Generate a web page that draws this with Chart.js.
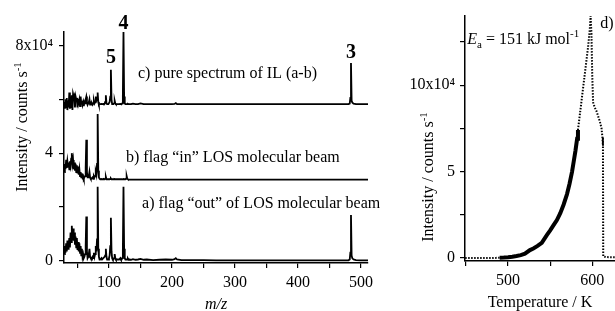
<!DOCTYPE html>
<html>
<head>
<meta charset="utf-8">
<script src="https://cdn.jsdelivr.net/npm/chart.js@4.4.1/dist/chart.umd.min.js"></script>
<style>
  html, body { margin: 0; padding: 0; background: #fff; }
  #wrap { position: relative; width: 615px; height: 311px; overflow: hidden; }
  #left { position: absolute; left: 0; top: 0; }
  #right { position: absolute; left: 400px; top: 0; }
</style>
</head>
<body>
<div id="wrap">
  <canvas id="left" width="400" height="311"></canvas>
  <canvas id="right" width="215" height="311"></canvas>
</div>
<script>
/*  Left panel: mass spectra a), b), c) (intensity in 10^4 counts/s)  */

const mz = [29, 30, 31, 32, 33, 34, 35, 36, 37, 38, 39, 40, 41, 42, 43, 44, 45, 46, 47, 48,
	49, 50, 51, 52, 53, 54, 55, 56, 57, 58, 59, 60, 61, 62, 63, 64, 65, 66, 67, 68,
	69, 70, 71, 72, 73, 74, 75, 76, 77, 78, 79, 80, 81, 82, 83, 84, 85, 86, 87, 88,
	89, 90, 91, 92, 93, 94, 95, 96, 97, 98, 99, 100, 101, 102, 103, 104, 105, 106, 107, 108,
	109, 110, 111, 112, 113, 114, 115, 116, 117, 118, 119, 120, 121, 122, 123, 124, 125, 126, 127, 128,
	129, 130, 131, 132, 133, 134, 135,
	138, 142, 146, 150, 155, 160, 170, 180, 190, 200, 204, 206, 208, 215, 230, 250, 270, 290, 310, 330,
	350, 370, 390, 410, 430, 450, 470, 480, 482, 483, 484, 485, 486, 488, 492, 500, 511];

// a) flag "out" of LOS molecular beam
const specOut = [0.25, 0.55, 0.3, 0.65, 0.35, 0.75, 0.45, 0.6, 0.85, 0.5, 1.05, 0.7, 1.3, 0.85, 1.2, 0.75, 1.05, 0.6, 0.9, 0.5,
	0.85, 0.4, 0.7, 0.35, 0.65, 0.3, 0.55, 0.2, 0.45, 0.15, 0.25, 0.1, 0.15, 0.25, 0.55, 1.65, 0.35, 0.1, 0.15, 0.25,
	0.45, 0.15, 0.1, 0.05, 0.1, 0.15, 0.1, 0.3, 0.15, 0.25, 0.55, 0.35, 0.8, 2.75, 0.45, 0.15, 0.05, 0.05, 0.05, 0.1,
	0.05, 0.05, 0.1, 0.1, 0.15, 0.2, 0.45, 0.15, 0.05, 0.05, 0.05, 0.1, 0.2, 0.55, 1.6, 0.35, 0.1, 0.05, 0.05, 0.1,
	0.25, 0.1, 0.05, 0.05, 0.05, 0.05, 0.05, 0.05, 0.05, 0.1, 0.05, 0.05, 0.1, 0.35, 2.75, 0.45, 0.1, 0.05, 0.05, 0.05,
	0.05, 0.08, 0.04, 0.04, 0.05, 0.04, 0.04,
	0.06, 0.04, 0.05, 0.07, 0.04, 0.05, 0.03, 0.04, 0.05, 0.04, 0.06, 0.1, 0.05, 0.03, 0.03, 0.03, 0.02, 0.02, 0.02, 0.02,
	0.02, 0.02, 0.02, 0.02, 0.02, 0.02, 0.02, 0.02, 0.05, 0.3, 1.7, 0.2, 0.1, 0.05, 0.03, 0.02, 0.02];

// b) flag "in" LOS molecular beam
const specIn = [0.3, 0.6, 0.4, 0.75, 0.45, 0.7, 0.5, 0.65, 0.4, 0.7, 0.55, 0.8, 1.0, 0.6, 0.75, 0.4, 0.65, 0.35, 0.6, 0.3,
	0.55, 0.25, 0.5, 0.2, 0.4, 0.15, 0.3, 0.1, 0.25, 0.1, 0.15, 0.05, 0.1, 0.15, 0.45, 1.5, 0.3, 0.1, 0.1, 0.15,
	0.3, 0.1, 0.05, 0.05, 0.05, 0.1, 0.05, 0.15, 0.1, 0.15, 0.3, 0.2, 0.6, 2.45, 0.35, 0.1, 0.05, 0.03, 0.03, 0.04,
	0.03, 0.03, 0.03, 0.04, 0.03, 0.05, 0.12, 0.03, 0.03, 0.03, 0.03, 0.03, 0.03, 0.04, 0.06, 0.03, 0.03, 0.03, 0.03, 0.03,
	0.04, 0.03, 0.03, 0.03, 0.03, 0.03, 0.03, 0.03, 0.03, 0.03, 0.03, 0.03, 0.03, 0.03, 0.04, 0.03, 0.03, 0.03, 0.05, 0.15,
	0.05, 0.03, 0.02, 0.02, 0.02, 0.02, 0.02,
	0.02, 0.02, 0.02, 0.02, 0.02, 0.02, 0.02, 0.02, 0.02, 0.02, 0.02, 0.02, 0.02, 0.02, 0.02, 0.02, 0.02, 0.02, 0.02, 0.02,
	0.02, 0.02, 0.02, 0.02, 0.02, 0.02, 0.02, 0.02, 0.02, 0.02, 0.02, 0.02, 0.02, 0.02, 0.02, 0.02, 0.02];

// c) pure spectrum of IL (a-b)
const specPure = [0.1, -0.15, 0.2, -0.1, 0.25, -0.2, 0.15, -0.1, 0.45, -0.15, 0.3, -0.1, 0.35, -0.2, 0.4, 0.3, 0.35, -0.1, 0.3, 0.2,
	0.25, -0.1, 0.15, 0.1, 0.2, -0.05, 0.3, 0.05, 0.15, 0.0, 0.1, -0.05, 0.1, 0.05, 0.2, 0.3, 0.1, 0.0, 0.05, 0.1,
	0.2, 0.0, 0.05, 0.0, 0.05, 0.0, 0.05, 0.15, 0.05, 0.1, 0.3, 0.15, 0.2, 0.45, 0.1, 0.0, 0.02, 0.02, 0.02, 0.03,
	0.02, 0.02, 0.03, 0.02, 0.03, 0.1, 0.35, 0.05, 0.02, 0.02, 0.02, 0.02, 0.1, 0.3, 1.3, 0.2, 0.02, 0.02, 0.02, 0.05,
	0.15, 0.05, 0.02, 0.02, 0.02, 0.02, 0.02, 0.02, 0.02, 0.03, 0.02, 0.02, 0.05, 0.3, 2.7, 0.3, 0.05, 0.02, 0.02, 0.02,
	0.02, 0.03, 0.02, 0.02, 0.02, 0.02, 0.02,
	0.04, 0.02, 0.02, 0.05, 0.02, 0.02, 0.02, 0.02, 0.02, 0.02, 0.03, 0.06, 0.02, 0.02, 0.02, 0.02, 0.02, 0.02, 0.02, 0.02,
	0.02, 0.02, 0.02, 0.02, 0.02, 0.02, 0.02, 0.02, 0.04, 0.25, 1.55, 0.15, 0.08, 0.04, 0.02, 0.02, 0.02];

// vertical offsets of the stacked spectra
const offsetOut = 0, offsetIn = 3.0, offsetPure = 5.8;

const mzTicks = [50, 100, 150, 200, 250, 300, 350, 400, 450, 500];
const mzTickLabels = ['', '100', '', '200', '', '300', '', '400', '', '500'];
const specTicks = [0, 2, 4, 6, 8];
const specTickLabels = ['0', '', '4', '', '8x10\u2074'];

/*  Right panel: TPD trace  */

const tempK = [449, 455, 460, 465, 470, 475, 480, 485, 490, 495, 500, 505, 510, 515, 520, 526, 530, 535, 540, 546,
	550, 554, 558, 562, 566, 570, 573, 576, 578, 580, 582, 583, 586, 589, 592, 595, 597, 598, 599, 600,
	601, 603, 605, 607, 609, 611, 612, 612.7, 613, 616, 620, 627];
const tpdSignal = [0, 0, 0, 0, 0, 0, 0, 0.01, 0.02, 0.03, 0.05, 0.08, 0.12, 0.17, 0.25, 0.46, 0.55, 0.7, 0.88, 1.33,
	1.6, 1.9, 2.2, 2.6, 3.1, 3.7, 4.3, 5.0, 5.6, 6.2, 6.9, 7.4, 8.6, 9.8, 11.0, 12.2, 13.2, 14.0, 13.0, 10.5,
	9.0, 8.7, 8.5, 8.2, 7.9, 7.5, 7.0, 6.5, 0.1, 0.06, 0.05, 0.05];
const denseFrom = 490, denseTo = 583;   // range where the points merge into a solid band

const tempTicks = [450, 500, 550, 600];
const tempTickLabels = ['', '500', '', '600'];
const tpdTicks = [0, 2.5, 5, 7.5, 10, 12.5];
const tpdTickLabels = ['0', '', '5', '', '10x10\u2074', ''];

const FONT = "'Liberation Serif', 'Times New Roman', serif";

/* Text annotations, placed in data coordinates */
const leftNotes = [
	{ x: 146, y: 6.99, parts: [{ t: 'c) pure spectrum of IL (a-b)' }] },
	{ x: 127, y: 3.87, parts: [{ t: 'b) flag \u201cin\u201d LOS molecular beam' }] },
	{ x: 152.5, y: 2.16, parts: [{ t: 'a) flag \u201cout\u201d of LOS molecular beam' }] },
	{ x: 103, y: 7.6, align: 'center', bold: true, size: 20, parts: [{ t: '5' }] },
	{ x: 123, y: 8.85, align: 'center', bold: true, size: 20, parts: [{ t: '4' }] },
	{ x: 484, y: 7.77, align: 'center', bold: true, size: 20, parts: [{ t: '3' }] }
];
const rightNotes = [
	{ x: 451.5, y: 12.7, parts: [{ t: 'E', it: true }, { t: 'a', sub: true }, { t: ' = 151 kJ mol' }, { t: '-1', sup: true }] },
	{ x: 609.5, y: 13.6, parts: [{ t: 'd)' }] }
];
const yTitleParts = [{ t: 'Intensity / counts s' }, { t: '-1', sup: true }];

function drawRich(ctx, parts, x, y, align, size, bold) {
	let fontOf = function (p) {
		let s = (p.sup || p.sub) ? Math.round(size * 0.68) : size;
		return (p.it ? 'italic ' : '') + (bold ? 'bold ' : '') + s + 'px ' + FONT;
	};
	let w = 0;
	parts.forEach(p => { ctx.font = fontOf(p); w += ctx.measureText(p.t).width; });
	let cx = align === 'center' ? x - w / 2 : x;
	ctx.save();
	ctx.fillStyle = '#000';
	ctx.textAlign = 'left';
	ctx.textBaseline = 'alphabetic';
	parts.forEach(p => {
		ctx.font = fontOf(p);
		let dy = p.sup ? -size * 0.4 : (p.sub ? size * 0.25 : 0);
		ctx.fillText(p.t, cx, y + size * 0.33 + dy);
		cx += ctx.measureText(p.t).width;
	});
	ctx.restore();
}

const notesPlugin = {
	id: 'notes',
	afterDraw(chart, args, opts) {
		let ctx = chart.ctx;
		let xs = chart.scales.x, ys = chart.scales.y;
		(opts.items || []).forEach(n => {
			drawRich(ctx, n.parts, xs.getPixelForValue(n.x), ys.getPixelForValue(n.y),
				n.align || 'left', n.size || 16, n.bold);
		});
		if (opts.yTitle) {
			ctx.save();
			ctx.translate(opts.yTitle.x, opts.yTitle.y);
			ctx.rotate(-Math.PI / 2);
			drawRich(ctx, yTitleParts, 0, 0, 'center', 16, false);
			ctx.restore();
		}
	}
};

function axisStyle(extra) {
	return Object.assign({
		type: 'linear',
		grid: { drawOnChartArea: false, drawTicks: true, tickLength: 5, color: '#000', lineWidth: 1.2 },
		border: { display: true, color: '#000', width: 1.5 }
	}, extra);
}

function tickStyle(labels, pad) {
	return {
		autoSkip: false, maxRotation: 0, padding: pad, color: '#000',
		font: { family: FONT, size: 16 },
		callback: (v, i) => labels[i]
	};
}

function toPoints(xs, ys, off) {
	return xs.map((x, i) => ({ x: x, y: ys[i] + off }));
}

let specLine = { borderColor: '#000', borderWidth: 1.8, pointRadius: 0, tension: 0, fill: false };

new Chart(document.getElementById('left'), {
	type: 'line',
	data: {
		datasets: [
			Object.assign({ label: 'a', data: toPoints(mz, specOut, offsetOut) }, specLine),
			Object.assign({ label: 'b', data: toPoints(mz, specIn, offsetIn) }, specLine),
			Object.assign({ label: 'c', data: toPoints(mz, specPure, offsetPure) }, specLine)
		]
	},
	options: {
		responsive: false,
		animation: false,
		layout: { padding: { top: 32, right: 32, left: 0, bottom: 0 } },
		plugins: {
			legend: { display: false },
			tooltip: { enabled: false },
			notes: { items: leftNotes, yTitle: { x: 22, y: 127 } }
		},
		scales: {
			x: axisStyle({
				min: 28.6, max: 511,
				afterFit: s => { s.height = 48; },
				afterBuildTicks: s => { s.ticks = mzTicks.map(v => ({ value: v })); },
				ticks: tickStyle(mzTickLabels, 5),
				title: { display: true, text: 'm/z', color: '#000', padding: { top: 0, bottom: 0 },
					font: { family: FONT, size: 16, style: 'italic', lineHeight: 0.75 } }
			}),
			y: axisStyle({
				min: -0.08, max: 8.5,
				afterFit: s => { s.width = 64; },
				afterBuildTicks: s => { s.ticks = specTicks.map(v => ({ value: v })); },
				ticks: tickStyle(specTickLabels, 6)
			})
		}
	},
	plugins: [notesPlugin]
});

const isDense = c => c.p0.parsed.x >= denseFrom && c.p1.parsed.x <= denseTo;

new Chart(document.getElementById('right'), {
	type: 'line',
	data: {
		datasets: [{
			label: 'TPD',
			data: toPoints(tempK, tpdSignal, 0),
			borderColor: '#000',
			borderWidth: 2,
			pointRadius: 0,
			tension: 0,
			fill: false,
			segment: {
				borderDash: c => isDense(c) ? [] : [1.5, 1.5],
				borderWidth: c => isDense(c) ? 4 : 2
			}
		}]
	},
	options: {
		responsive: false,
		animation: false,
		layout: { padding: { top: 16, right: 0, left: 0, bottom: 0 } },
		plugins: {
			legend: { display: false },
			tooltip: { enabled: false },
			notes: { items: rightNotes, yTitle: { x: 28, y: 177 } }
		},
		scales: {
			x: axisStyle({
				min: 448.8, max: 627,
				afterFit: s => { s.height = 50; },
				afterBuildTicks: s => { s.ticks = tempTicks.map(v => ({ value: v })); },
				ticks: tickStyle(tempTickLabels, 5),
				title: { display: true, text: 'Temperature / K', color: '#000', padding: { top: 0, bottom: 0 },
					font: { family: FONT, size: 16, lineHeight: 1 } }
			}),
			y: axisStyle({
				min: -0.17, max: 14.0,
				afterFit: s => { s.width = 65; },
				afterBuildTicks: s => { s.ticks = tpdTicks.map(v => ({ value: v })); },
				ticks: tickStyle(tpdTickLabels, 5)
			})
		}
	},
	plugins: [notesPlugin]
});
</script>
</body>
</html>
